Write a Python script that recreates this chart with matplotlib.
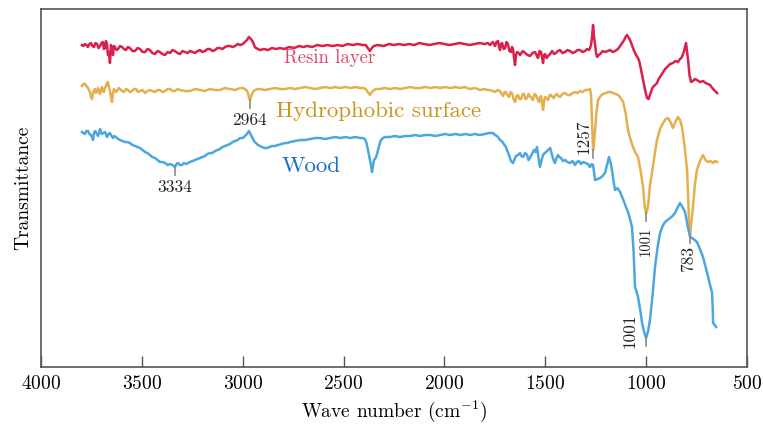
import matplotlib
matplotlib.use("Agg")
import matplotlib.pyplot as plt

plt.rcParams["font.family"] = "serif"
plt.rcParams["font.serif"] = ["cmr10", "DejaVu Serif"]
plt.rcParams["mathtext.fontset"] = "cm"
plt.rcParams["axes.formatter.use_mathtext"] = True
plt.rcParams["axes.unicode_minus"] = False

# FTIR spectra as (wave number, transmittance a.u.) pairs, curves offset vertically
resin = [(3797, 322), (3790, 321), (3782, 323), (3775, 322), (3767, 320), (3760, 323), (3752, 324), (3745, 321),
         (3737, 320), (3730, 324), (3722, 323), (3715, 319), (3707, 321), (3700, 324), (3693, 325), (3688, 318),
         (3683, 319), (3678, 326), (3673, 323), (3668, 312), (3663, 315), (3658, 304), (3653, 322), (3648, 318),
         (3643, 312), (3638, 321), (3633, 320), (3625, 317), (3618, 318), (3608, 321), (3598, 320), (3588, 318),
         (3579, 317), (3569, 320), (3559, 319), (3546, 316), (3534, 316), (3521, 319), (3509, 318), (3496, 315),
         (3484, 315), (3472, 318), (3460, 317), (3448, 314), (3435, 313), (3422, 316), (3410, 315), (3398, 313),
         (3385, 312), (3372, 315), (3360, 314), (3348, 317), (3336, 316), (3323, 314), (3311, 313), (3298, 316),
         (3286, 315), (3274, 314), (3261, 316), (3248, 315), (3236, 314), (3224, 316), (3212, 317), (3200, 315),
         (3187, 316), (3175, 318), (3162, 318), (3150, 316), (3137, 317), (3125, 319), (3113, 319), (3100, 318),
         (3088, 320), (3075, 321), (3063, 321), (3050, 320), (3038, 321), (3025, 323), (3013, 322), (3000, 323),
         (2989, 325), (2979, 327), (2969, 330), (2959, 328), (2949, 325), (2940, 320), (2934, 319), (2914, 317),
         (2895, 318), (2875, 317), (2855, 319), (2835, 318), (2815, 319), (2795, 318), (2770, 320), (2745, 319),
         (2720, 321), (2700, 320), (2680, 321), (2655, 320), (2630, 322), (2605, 321), (2580, 322), (2555, 321),
         (2530, 322), (2505, 321), (2480, 323), (2455, 322), (2430, 323), (2405, 322), (2390, 322), (2380, 319),
         (2369, 316), (2360, 319), (2350, 321), (2330, 322), (2300, 321), (2275, 323), (2250, 322), (2225, 323),
         (2200, 322), (2175, 323), (2150, 322), (2125, 324), (2100, 323), (2075, 322), (2050, 323), (2025, 324),
         (2000, 323), (1975, 322), (1950, 323), (1925, 324), (1900, 323), (1875, 322), (1850, 323), (1825, 324),
         (1800, 323), (1785, 324), (1774, 322), (1760, 325), (1749, 321), (1742, 325), (1734, 326), (1729, 320),
         (1724, 317), (1719, 323), (1714, 324), (1706, 318), (1699, 319), (1692, 325), (1685, 323), (1678, 316),
         (1670, 315), (1665, 320), (1660, 318), (1655, 310), (1650, 302), (1645, 312), (1640, 315), (1632, 314),
         (1625, 312), (1612, 316), (1600, 314), (1588, 312), (1576, 311), (1563, 314), (1551, 315), (1543, 312),
         (1536, 309), (1528, 316), (1521, 315), (1516, 310), (1511, 304), (1506, 312), (1501, 313), (1493, 309),
         (1486, 311), (1476, 313), (1466, 316), (1456, 313), (1447, 314), (1437, 316), (1427, 317), (1415, 314),
         (1402, 315), (1390, 317), (1377, 316), (1365, 314), (1352, 315), (1340, 317), (1328, 317), (1315, 315),
         (1303, 316), (1293, 318), (1283, 317), (1278, 319), (1273, 322), (1268, 330), (1263, 342), (1258, 330),
         (1253, 322), (1248, 314), (1243, 310), (1235, 312), (1228, 313), (1215, 316), (1204, 315), (1190, 316),
         (1179, 317), (1165, 315), (1154, 316), (1140, 318), (1129, 321), (1119, 324), (1109, 327), (1102, 330),
         (1095, 332), (1088, 330), (1080, 327), (1072, 323), (1065, 319), (1057, 315), (1050, 312), (1040, 309),
         (1033, 305), (1025, 297), (1018, 290), (1010, 282), (1002, 274), (995, 269), (988, 268), (981, 272),
         (971, 278), (966, 280), (956, 282), (946, 284), (938, 288), (931, 290), (915, 295), (906, 298),
         (896, 300), (881, 303), (867, 304), (855, 306), (842, 305), (832, 308), (822, 310), (812, 316),
         (802, 324), (797, 315), (792, 307), (785, 292), (777, 285), (768, 286), (758, 288), (748, 287),
         (733, 285), (718, 286), (705, 284), (693, 283), (683, 282), (668, 278), (658, 276), (648, 274)]

hydro = [(3797, 281), (3790, 283), (3782, 283), (3775, 281), (3767, 279), (3762, 277), (3757, 275), (3752, 270),
         (3747, 268), (3742, 274), (3737, 277), (3732, 278), (3727, 274), (3722, 276), (3717, 279), (3712, 275),
         (3707, 273), (3702, 277), (3698, 280), (3693, 276), (3688, 275), (3683, 279), (3678, 281), (3673, 284),
         (3668, 285), (3663, 280), (3658, 276), (3653, 270), (3648, 265), (3643, 274), (3638, 278), (3630, 275),
         (3623, 276), (3615, 279), (3608, 278), (3598, 276), (3588, 275), (3578, 278), (3569, 277), (3559, 275),
         (3549, 276), (3539, 278), (3529, 278), (3519, 275), (3509, 276), (3496, 277), (3484, 274), (3472, 276),
         (3460, 277), (3448, 276), (3435, 275), (3422, 277), (3410, 277), (3398, 275), (3385, 276), (3372, 278),
         (3360, 278), (3348, 276), (3336, 276), (3323, 278), (3311, 277), (3286, 276), (3261, 276), (3236, 278),
         (3212, 277), (3187, 276), (3162, 278), (3137, 277), (3113, 277), (3088, 279), (3063, 278), (3038, 277),
         (3013, 279), (2999, 279), (2989, 278), (2979, 276), (2974, 274), (2968, 269), (2964, 267), (2959, 270),
         (2954, 273), (2946, 276), (2939, 277), (2925, 278), (2914, 278), (2890, 277), (2865, 278), (2840, 279),
         (2815, 278), (2790, 278), (2765, 279), (2740, 278), (2716, 279), (2690, 280), (2665, 279), (2640, 278),
         (2617, 279), (2590, 280), (2565, 279), (2540, 280), (2518, 279), (2490, 280), (2465, 279), (2440, 280),
         (2418, 279), (2400, 279), (2390, 278), (2380, 275), (2369, 272), (2360, 275), (2354, 276), (2340, 278),
         (2319, 278), (2295, 279), (2270, 278), (2245, 279), (2220, 278), (2195, 279), (2170, 280), (2145, 279),
         (2121, 279), (2095, 280), (2070, 279), (2045, 280), (2022, 279), (1995, 280), (1970, 279), (1945, 280),
         (1923, 279), (1900, 280), (1873, 278), (1848, 279), (1823, 277), (1800, 278), (1785, 277), (1774, 277),
         (1760, 276), (1749, 275), (1737, 277), (1724, 276), (1716, 273), (1709, 271), (1702, 275), (1695, 275),
         (1688, 272), (1680, 270), (1672, 275), (1665, 274), (1657, 268), (1650, 265), (1642, 271), (1635, 272),
         (1628, 268), (1620, 268), (1612, 273), (1605, 273), (1598, 268), (1590, 269), (1583, 273), (1576, 271),
         (1568, 269), (1561, 267), (1553, 273), (1546, 272), (1538, 268), (1531, 265), (1526, 270), (1521, 271),
         (1516, 264), (1511, 257), (1506, 266), (1501, 270), (1493, 269), (1486, 267), (1478, 272), (1471, 272),
         (1464, 270), (1457, 269), (1450, 272), (1442, 273), (1435, 271), (1427, 270), (1415, 273), (1402, 274),
         (1390, 272), (1377, 272), (1365, 274), (1352, 275), (1340, 274), (1328, 276), (1315, 275), (1303, 277),
         (1290, 277), (1278, 278), (1273, 272), (1268, 245), (1263, 217), (1258, 225), (1253, 237), (1246, 255),
         (1238, 267), (1226, 271), (1214, 273), (1200, 274), (1189, 275), (1176, 275), (1164, 274), (1150, 273),
         (1139, 272), (1126, 269), (1114, 265), (1106, 258), (1100, 252), (1090, 237), (1078, 228), (1065, 220),
         (1052, 214), (1040, 210), (1028, 197), (1015, 180), (1010, 167), (1005, 158), (1000, 154), (995, 156),
         (990, 162), (985, 172), (981, 182), (971, 194), (958, 212), (946, 227), (931, 238), (916, 244),
         (903, 248), (891, 249), (879, 245), (867, 239), (855, 245), (842, 250), (832, 247), (822, 240),
         (810, 222), (797, 197), (792, 172), (787, 142), (782, 132), (777, 142), (772, 152), (767, 162),
         (758, 183), (748, 197), (733, 206), (718, 212), (706, 207), (693, 205), (680, 206), (668, 204),
         (658, 206), (648, 205)]

wood = [(3797, 235), (3790, 234), (3782, 233), (3775, 236), (3767, 236), (3760, 233), (3752, 232), (3747, 230),
        (3742, 227), (3737, 234), (3732, 236), (3725, 234), (3717, 231), (3712, 234), (3707, 238), (3702, 235),
        (3698, 233), (3690, 234), (3683, 235), (3678, 233), (3673, 230), (3665, 233), (3658, 234), (3650, 231),
        (3643, 229), (3636, 231), (3628, 230), (3618, 228), (3608, 227), (3596, 226), (3584, 225), (3572, 225),
        (3559, 224), (3546, 222), (3534, 221), (3521, 220), (3509, 219), (3496, 217), (3484, 215), (3472, 214),
        (3460, 212), (3448, 210), (3435, 209), (3422, 207), (3410, 205), (3398, 205), (3385, 204), (3372, 202),
        (3360, 203), (3348, 202), (3336, 200), (3328, 203), (3321, 204), (3311, 202), (3301, 202), (3291, 204),
        (3281, 203), (3271, 204), (3261, 205), (3248, 206), (3236, 207), (3224, 208), (3212, 209), (3200, 210),
        (3187, 211), (3175, 213), (3162, 214), (3150, 214), (3137, 216), (3125, 217), (3113, 218), (3100, 220),
        (3088, 221), (3075, 222), (3063, 223), (3050, 225), (3038, 226), (3025, 227), (3013, 229), (3000, 229),
        (2989, 231), (2979, 233), (2969, 236), (2962, 233), (2954, 230), (2944, 226), (2934, 224), (2924, 222),
        (2914, 221), (2904, 220), (2894, 219), (2880, 219), (2868, 220), (2855, 221), (2840, 221), (2825, 222),
        (2808, 223), (2790, 224), (2778, 224), (2765, 225), (2740, 226), (2716, 227), (2690, 227), (2666, 228),
        (2640, 229), (2617, 229), (2590, 228), (2567, 229), (2540, 230), (2518, 229), (2490, 230), (2468, 229),
        (2440, 230), (2418, 229), (2405, 229), (2394, 228), (2386, 224), (2379, 217), (2370, 208), (2364, 202),
        (2359, 195), (2354, 201), (2349, 207), (2344, 208), (2339, 210), (2334, 213), (2329, 217), (2320, 224),
        (2314, 227), (2305, 229), (2294, 230), (2270, 230), (2245, 231), (2220, 230), (2195, 231), (2170, 231),
        (2145, 232), (2120, 231), (2095, 232), (2071, 232), (2045, 231), (2022, 232), (1995, 233), (1972, 232),
        (1945, 233), (1920, 232), (1895, 233), (1873, 232), (1850, 233), (1825, 232), (1799, 233), (1780, 234),
        (1759, 234), (1749, 232), (1739, 231), (1731, 229), (1724, 227), (1716, 226), (1709, 224), (1702, 222),
        (1695, 220), (1688, 216), (1680, 212), (1670, 206), (1660, 204), (1652, 208), (1645, 211), (1635, 212),
        (1625, 214), (1618, 211), (1610, 210), (1600, 214), (1590, 212), (1583, 207), (1576, 209), (1566, 213),
        (1556, 217), (1549, 215), (1541, 220), (1534, 210), (1526, 200), (1518, 207), (1511, 212), (1503, 214),
        (1496, 215), (1486, 217), (1476, 219), (1469, 214), (1462, 209), (1457, 206), (1452, 204), (1444, 209),
        (1437, 212), (1430, 210), (1422, 209), (1412, 206), (1402, 207), (1390, 205), (1377, 204), (1365, 206),
        (1352, 202), (1343, 205), (1333, 206), (1323, 203), (1313, 205), (1300, 204), (1288, 203), (1283, 201),
        (1278, 200), (1270, 203), (1263, 202), (1253, 187), (1240, 188), (1228, 189), (1216, 191), (1204, 194),
        (1194, 202), (1184, 210), (1176, 204), (1169, 197), (1160, 184), (1154, 177), (1142, 179), (1129, 175),
        (1119, 170), (1109, 165), (1100, 160), (1090, 155), (1080, 148), (1070, 140), (1062, 115), (1055, 80),
        (1047, 75), (1040, 70), (1030, 58), (1020, 44), (1010, 35), (1000, 29), (990, 36), (981, 47),
        (968, 72), (956, 100), (943, 120), (931, 134), (918, 141), (906, 145), (894, 147), (881, 149),
        (869, 151), (857, 154), (845, 159), (832, 164), (820, 160), (807, 155), (795, 142), (782, 130),
        (765, 128), (748, 125), (733, 118), (718, 110), (705, 100), (693, 90), (683, 82), (673, 74),
        (670, 60), (668, 44), (660, 42), (653, 40)]

peak_labels = ["3334", "2964", "1257", "1001", "783", "1001"]
peak_wn = [3336, 2964, 1263, 1000, 782, 1000]
peak_t = [200, 267, 217, 154, 132, 29]

fig = plt.figure(figsize=(7.63, 4.30), dpi=100)
ax = fig.add_axes([0.0537, 0.1465, 0.9253, 0.8325])

for spec, col in [(resin, "#DA1F4B"), (hydro, "#E4B04E"), (wood, "#4CA7DF")]:
    wn, t = zip(*spec)
    ax.plot(wn, t, color=col, lw=1.8, solid_joinstyle="round")

ax.text(2567, 309, "Resin layer", color="#E0456A", fontsize=13.5, ha="center", va="center")
ax.text(2324, 256, "Hydrophobic surface", color="#C8961C", fontsize=16.5, ha="center", va="center")
ax.text(2661, 201, "Wood", color="#1A6FC4", fontsize=16.5, ha="center", va="center")

# peak markers
for w, t in zip(peak_wn, peak_t):
    ax.plot([w, w], [t, t - 8], color="#888888", lw=1.2)

label_pos = [(3336, 180), (2964, 247), (1308, 230), (1000, 126), (792, 108), (1082, 36)]
label_rot = [0, 0, 90, 90, 90, 90]
label_size = [12.5, 12.5, 12.5, 10.5, 12.5, 12.5]
for lab, (x, y), r, s in zip(peak_labels, label_pos, label_rot, label_size):
    ax.text(x, y, lab, rotation=r, fontsize=s, ha="center", va="center", color="#222222")

ax.set_xlim(4000, 500)
ax.set_ylim(0, 358)
ax.set_xticks([4000, 3500, 3000, 2500, 2000, 1500, 1000, 500])
ax.set_yticks([])
ax.tick_params(axis="x", direction="in", length=8, width=1, color="#555555", labelsize=14, pad=6)
for sp in ax.spines.values():
    sp.set_color("#555555")
    sp.set_linewidth(1.2)

ax.set_xlabel(r"Wave number (cm$^{-1}$)", fontsize=14, labelpad=4)
ax.set_ylabel("Transmittance", fontsize=14, labelpad=6)

fig.savefig("out.png", dpi=100)
